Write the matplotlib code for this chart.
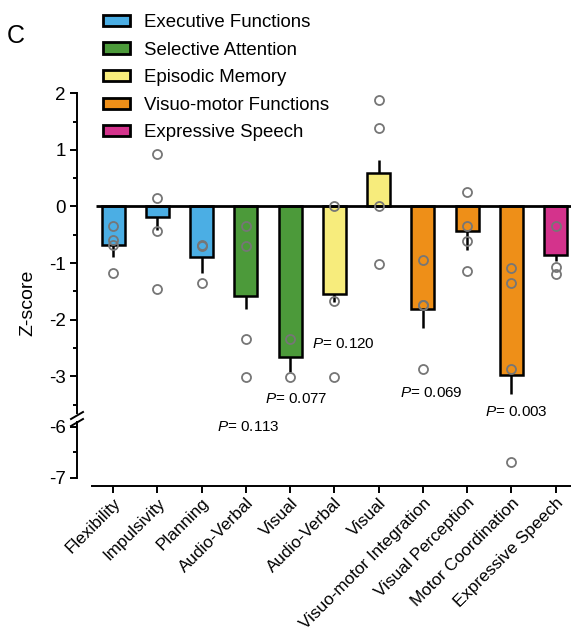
import matplotlib
matplotlib.use("Agg")
import matplotlib.pyplot as plt
from matplotlib.patches import Patch
from matplotlib.lines import Line2D

plt.rcParams['font.family'] = ['Liberation Sans', 'DejaVu Sans']
plt.rcParams['mathtext.fontset'] = 'custom'
plt.rcParams['mathtext.it'] = 'Liberation Sans:italic'
plt.rcParams['mathtext.rm'] = 'Liberation Sans'
plt.rcParams['axes.unicode_minus'] = False

categories = ["Flexibility", "Impulsivity", "Planning", "Audio-Verbal", "Visual",
              "Audio-Verbal", "Visual", "Visuo-motor Integration", "Visual Perception",
              "Motor Coordination", "Expressive Speech"]
groups = [0, 0, 0, 1, 1, 2, 2, 3, 3, 3, 4]
group_names = ["Executive Functions", "Selective Attention", "Episodic Memory",
               "Visuo-motor Functions", "Expressive Speech"]
group_colors = ["#4BAEE4", "#4C9A3A", "#F7EC7C", "#EE8F18", "#D4338C"]

means = [-0.68, -0.19, -0.89, -1.58, -2.66, -1.55, 0.59, -1.82, -0.44, -2.98, -0.85]
errors = [0.21, 0.23, 0.29, 0.24, 0.26, 0.13, 0.23, 0.32, 0.33, 0.33, 0.11]
points = [
    [-0.35, -0.59, -0.68, -1.18],
    [0.93, 0.15, -0.44, -1.45],
    [-0.68, -0.70, -1.35],
    [-0.35, -0.69, -2.35, -3.01],
    [-2.35, -3.01],
    [0.0, -1.67, -3.01],
    [1.89, 1.39, 0.0, -1.01],
    [-0.95, -1.75, -1.75, -2.88],
    [0.25, -0.35, -0.61, -1.14],
    [-1.08, -1.35, -2.88, -6.70],
    [-0.35, -1.07, -1.19],
]
p_labels = ["0.113", "0.077", "0.120", "0.069", "0.003"]
p_pos = [(2.35, -3.90), (3.43, -3.40), (4.50, -2.43), (6.49, -3.30), (8.41, -3.63)]

W, H = 571, 630
fig = plt.figure(figsize=(W / 100, H / 100), dpi=100)

def frac(x0, y0, x1, y1):
    return [x0 / W, 1 - y1 / H, (x1 - x0) / W, (y1 - y0) / H]

ax_hi = fig.add_axes(frac(77, 93.3, 571, 413))
ax_lo = fig.add_axes(frac(77, 421.6, 571, 477.7))

x = list(range(len(categories)))
colors = [group_colors[g] for g in groups]
xlim = (-0.82, 10.35)

for ax in (ax_hi, ax_lo):
    ax.patch.set_visible(False)
    ax.bar(x, means, width=0.52, color=colors, edgecolor="black", linewidth=1.8, zorder=2)
    lower = [e if m < 0 else 0 for m, e in zip(means, errors)]
    upper = [e if m >= 0 else 0 for m, e in zip(means, errors)]
    ax.errorbar(x, means, yerr=[lower, upper], fmt="none", ecolor="black",
                elinewidth=1.8, capsize=0, zorder=1)
    for i, pts in enumerate(points):
        ax.plot([i] * len(pts), pts, linestyle="none", marker="o", markersize=6.5,
                markerfacecolor="none", markeredgecolor="#767676", markeredgewidth=1.3,
                zorder=4, clip_on=True)
    ax.set_xlim(*xlim)
    for s in ("top", "right"):
        ax.spines[s].set_visible(False)
    ax.spines["left"].set_linewidth(1.4)
    ax.tick_params(axis="y", which="major", length=5, width=1.4, labelsize=13.5, pad=3)
    ax.tick_params(axis="y", which="minor", length=3, width=1.4)

ax_hi.hlines(0, -0.4, xlim[1], color="black", linewidth=2, zorder=3)
ax_hi.set_ylim(-3.65, 2)
ax_hi.set_yticks([2, 1, 0, -1, -2, -3])
ax_hi.set_yticks([1.5, 0.5, -0.5, -1.5, -2.5, -3.5], minor=True)
ax_hi.spines["bottom"].set_visible(False)
ax_hi.set_xticks([])

ax_lo.set_ylim(-7, -5.9)
ax_lo.set_yticks([-6, -7])
ax_lo.set_yticks([-6.5], minor=True)
ax_lo.spines["bottom"].set_position(("outward", 6))
ax_lo.spines["bottom"].set_bounds(-0.48, xlim[1])
ax_lo.spines["bottom"].set_linewidth(1.4)
ax_lo.set_xticks(x)
ax_lo.set_xticklabels(categories, rotation=45, ha="right", rotation_mode="anchor", fontsize=12.3)
ax_lo.tick_params(axis="x", length=5, width=1.4, pad=1.5)

for (px, py), lab in zip(p_pos, p_labels):
    ax_hi.text(px, py, r"$\it{P}$= " + lab, fontsize=11, va="center", ha="left",
               clip_on=False, zorder=5)

# axis break marks
for y0 in (419, 426):
    fig.add_artist(Line2D([71 / W, 83 / W], [1 - y0 / H, 1 - (y0 - 7) / H],
                          color="black", linewidth=1.4))

fig.text(28 / W, 1 - 303 / H, "Z-score", rotation=90, fontsize=14, ha="center", va="center")
fig.text(7 / W, 1 - 36 / H, "C", fontsize=18, ha="left", va="center")

handles = [Patch(facecolor=c, edgecolor="black", linewidth=2) for c in group_colors]
fig.legend(handles, group_names, loc="upper left", bbox_to_anchor=(103 / W, 1 - 14 / H),
           frameon=False, fontsize=13.4, handlelength=1.45, handleheight=0.55,
           handletextpad=0.75, labelspacing=0.57, borderpad=0, borderaxespad=0)

fig.savefig("out.png", dpi=100)
